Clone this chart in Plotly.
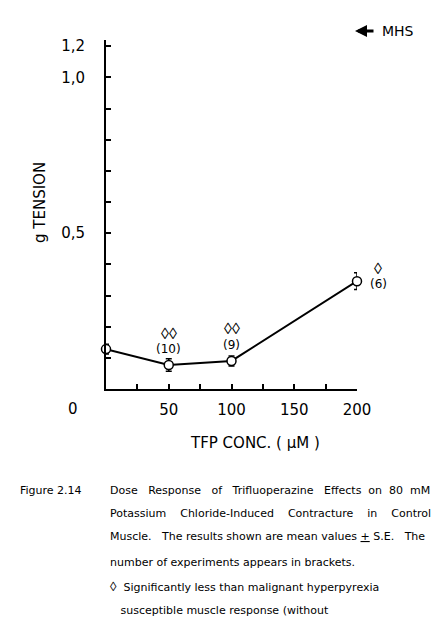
import plotly.graph_objects as go

# ---- data ----
conc = [0, 50, 100, 200]
tension = [0.128, 0.077, 0.090, 0.346]
se = [0.016, 0.020, 0.016, 0.027]
n_exp = ["", "(10)", "(9)", "(6)"]
sig = ["", "◊◊", "◊◊", "◊"]

x_tickvals = [25, 50, 75, 100, 125, 150, 175, 200]
x_ticktext = ["", "50", "", "100", "", "150", "", "200"]
y_tickvals = [0.1, 0.2, 0.3, 0.4, 0.5, 0.6, 0.7, 0.8, 0.9, 1.0, 1.1]
y_ticktext = ["", "", "", "", "0,5", "", "", "", "", "1,0", "1,2"]

NB = "\u00a0"
caption_label = "Figure 2.14"
caption_lines = [
    "Dose   Response   of   Trifluoperazine   Effects  on  80  mM",
    "Potassium    Chloride-Induced    Contracture    in    Control",
    "Muscle.   The results shown are mean values <u>+</u> S.E.   The",
    "number of experiments appears in brackets.",
    "<span style='font-family:Liberation Sans;font-size:13px'>◊</span>  Significantly less than malignant hyperpyrexia",
    "   susceptible muscle response (without",
]

W, H = 441, 623
L, R, T, B = 106, 84, 40, 234
PW, PH = W - L - R, H - T - B


def px(xp):
    return (xp - L) / PW


def py(yp):
    return (H - B - yp) / PH


FONT = "DejaVu Sans"
SIGFONT = "Liberation Sans"
fig = go.Figure()
fig.add_trace(go.Scatter(
    x=conc, y=tension, mode="lines+markers",
    line=dict(color="black", width=2),
    marker=dict(symbol="circle", size=9, color="white",
                line=dict(color="black", width=1.5)),
    error_y=dict(type="data", array=se, visible=True, color="black",
                 thickness=1.5, width=3),
    showlegend=False, cliponaxis=False,
))

annotations = []


def ann(x, y, text, size, xref="paper", yref="paper", xanchor="center", family=FONT, **kw):
    annotations.append(dict(x=x, y=y, xref=xref, yref=yref, text=text,
                            showarrow=False, xanchor=xanchor, yanchor="middle",
                            font=dict(family=family, size=size, color="black"), **kw))


for i in range(len(conc)):
    if i == 0:
        continue
    if conc[i] == 200:
        ann(conc[i], tension[i], n_exp[i], 12, "x", "y", xshift=21, yshift=-3)
        ann(conc[i], tension[i], sig[i], 16, "x", "y", xshift=21, yshift=13, family=SIGFONT)
    else:
        ann(conc[i], tension[i], n_exp[i], 12, "x", "y", yshift=16)
        ann(conc[i], tension[i], sig[i], 16, "x", "y", yshift=32, family=SIGFONT)

# origin "0" label
ann(px(73), py(409), "0", 15)
# axis titles
ann(px(40), py(203), "g TENSION", 15, textangle=-90)
ann(px(255), py(443), "TFP CONC. ( µM )", 15)
# MHS arrow
annotations.append(dict(x=px(355), y=py(31), xref="paper", yref="paper", text="",
                        showarrow=True, ax=20, ay=0, arrowhead=2, arrowsize=0.8,
                        arrowwidth=3, arrowcolor="black"))
ann(px(380), py(31), "MHS", 14, xanchor="left")
# caption
ann(px(18), py(490), caption_label, 11, xanchor="left")
cap_y = [490, 513, 536, 562, 586, 610]
for line, yy in zip(caption_lines, cap_y):
    ann(px(108), py(yy), line.replace("  ", NB + NB).replace("   ", NB * 3), 11, xanchor="left")

fig.update_layout(
    width=W, height=H, margin=dict(l=L, r=R, t=T, b=B),
    paper_bgcolor="white", plot_bgcolor="white",
    font=dict(family=FONT, size=15, color="black"),
    annotations=annotations,
    xaxis=dict(range=[0, 200], showgrid=False, zeroline=False, showline=True,
               linecolor="black", linewidth=2, ticks="inside", ticklen=5,
               tickwidth=1.5, tickcolor="black", tickvals=x_tickvals,
               ticktext=x_ticktext, ticklabelstandoff=6,
               tickfont=dict(family=FONT, size=15, color="black")),
    yaxis=dict(range=[0, 1.12], showgrid=False, zeroline=False, showline=True,
               linecolor="black", linewidth=2, ticks="inside", ticklen=5,
               tickwidth=1.5, tickcolor="black", tickvals=y_tickvals,
               ticktext=y_ticktext, ticklabelstandoff=16,
               tickfont=dict(family=FONT, size=15, color="black")),
)

fig.write_html("out.html")
